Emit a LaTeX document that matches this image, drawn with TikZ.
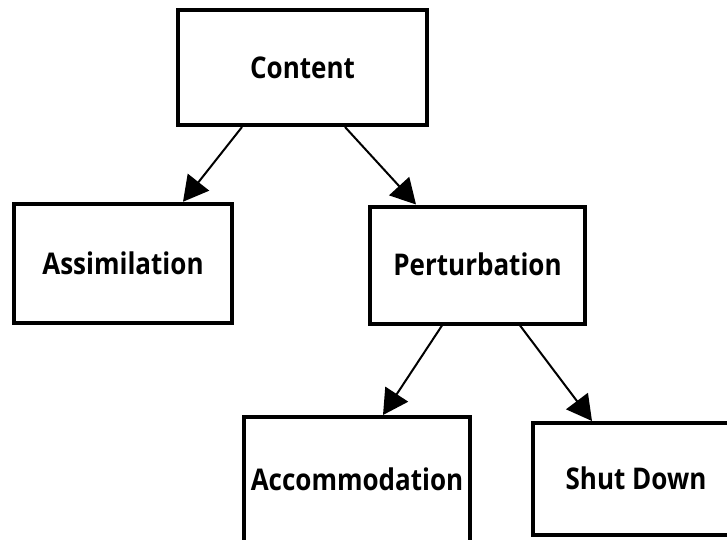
\documentclass[tikz,border=0pt]{standalone}
\usepackage{fontspec}
\setmainfont{Open Sans}
\usetikzlibrary{arrows.meta}
% slightly taller lettering for the box labels
\newcommand{\boxlabel}[1]{\scalebox{1}[1.15]{#1}}
\begin{document}
\begin{tikzpicture}[x=1pt,y=-1pt,
  stage/.style={draw=black, line width=4pt, fill=white,
    font=\fontsize{26}{30}\selectfont\bfseries,
    text height=21.4pt, text depth=0pt, inner sep=0pt},
  flow/.style={line width=2pt, -{Triangle[length=25pt,width=27pt]}}]
\useasboundingbox (0,0) rectangle (727,539);
\clip (0,0) rectangle (727,539);

% boxes
\node[stage, minimum width=249pt, minimum height=115pt] (content) at (302.5,67.5) {\boxlabel{Content}};
\node[stage, minimum width=218pt, minimum height=119.5pt] (assim) at (123,263.5) {\boxlabel{Assimilation}};
\node[stage, minimum width=215pt, minimum height=117pt] (pert) at (477.5,265) {\boxlabel{Perturbation}};
\node[stage, minimum width=225.5pt, minimum height=126pt] (accom) at (357,480) {\boxlabel{Accommodation}};
\node[stage, minimum width=207pt, minimum height=112pt] (shut) at (636,479) {\boxlabel{Shut Down}};

% connectors
\draw[flow] ([xshift=-60.5pt]content.south) -- ([xshift=60pt]assim.north);
\draw[flow] ([xshift=42.5pt]content.south) -- ([xshift=-61.5pt]pert.north);
\draw[flow] ([xshift=-35.5pt]pert.south) -- ([xshift=26pt]accom.north);
\draw[flow] ([xshift=42.5pt]pert.south) -- ([xshift=-44pt]shut.north);
\end{tikzpicture}
\end{document}
